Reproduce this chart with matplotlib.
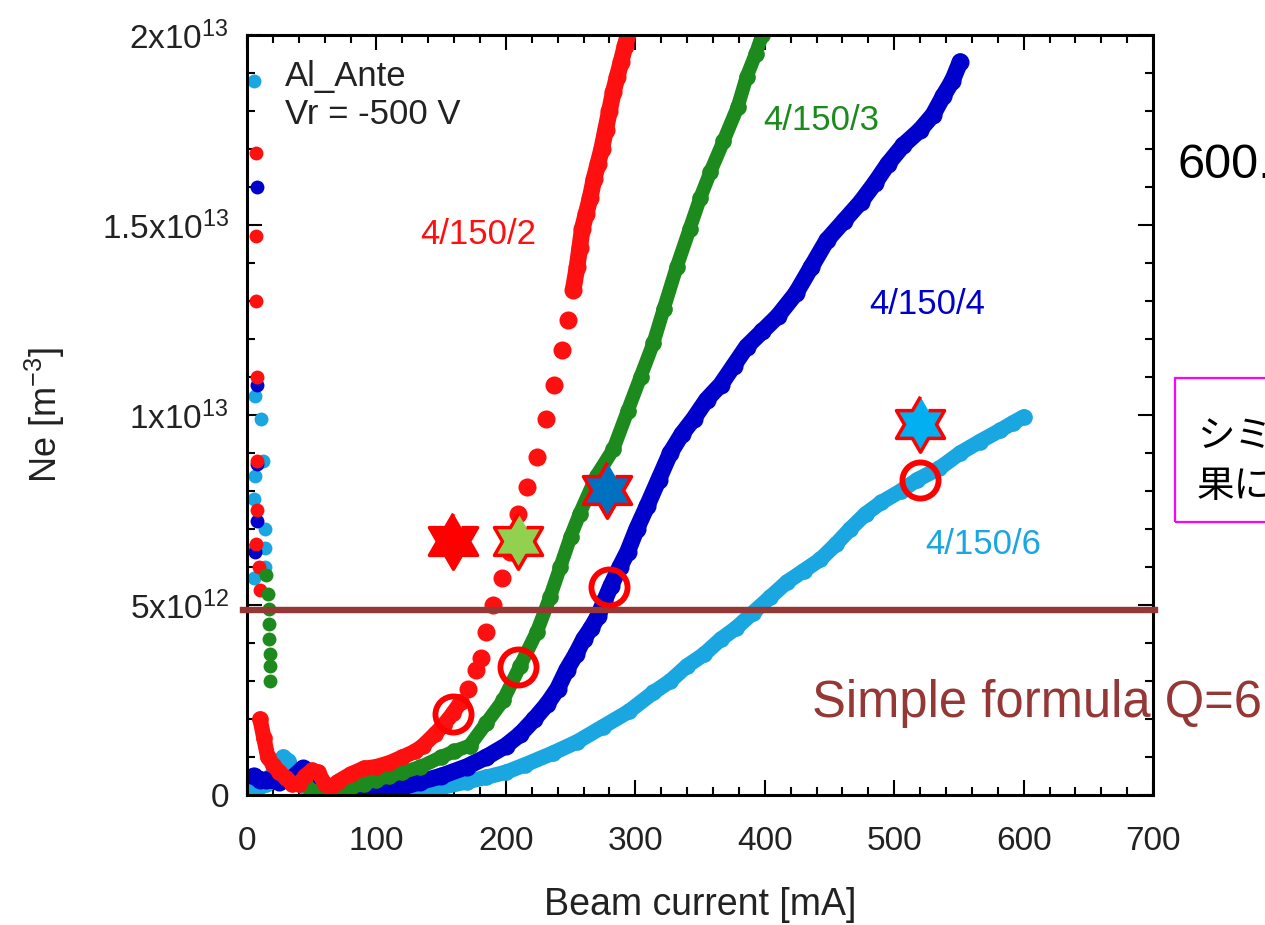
import matplotlib
matplotlib.use("Agg")
import matplotlib.pyplot as plt
from matplotlib.patches import Rectangle
from matplotlib.ticker import MultipleLocator
import numpy as np

plt.rcParams["font.family"] = ["Liberation Sans", "Noto Sans CJK JP", "DejaVu Sans"]
plt.rcParams["mathtext.fontset"] = "custom"
plt.rcParams["mathtext.rm"] = "Liberation Sans"
plt.rcParams["mathtext.it"] = "Liberation Sans"

# --- data (Ne in units of 1e12 m^-3, beam current in mA) ---
red_x = [10, 13, 16, 20, 25, 30, 35, 40, 45, 50, 55, 60, 65, 70, 80, 90,
         100, 110, 120, 130, 136, 145, 152, 159, 165]
red_y = [2.0, 1.5, 1.0, 0.8, 0.6, 0.45, 0.3, 0.3, 0.5, 0.65, 0.6, 0.3, 0.2,
         0.35, 0.55, 0.7, 0.75, 0.85, 1.0, 1.15, 1.3, 1.6, 1.85, 2.15, 2.45]
red_dot_x = [171, 177, 181, 185, 190, 197, 203, 209, 216, 224, 231, 237, 243,
             248]
red_dot_y = [2.8, 3.3, 3.6, 4.3, 5.0, 5.7, 6.4, 7.4, 8.1, 8.9, 9.9, 10.8, 11.7,
             12.5]
red_top_x = [252, 255, 257, 259, 262, 265, 268, 271, 274, 277, 280, 283, 286,
             289, 292, 296]
red_top_y = [13.3, 13.9, 14.4, 14.9, 15.3, 15.7, 16.2, 16.6, 17.0, 17.5, 18.0,
             18.5, 18.9, 19.3, 19.7, 20.2]
red_tr_x = [7, 7, 7, 8, 8, 8, 7, 9, 10]
red_tr_y = [16.9, 14.7, 13.0, 11.0, 8.8, 7.5, 6.6, 6.0, 5.4]

green_x = [45, 50, 55, 60, 70, 80, 90, 100, 110, 120, 134, 150, 160, 172, 185,
           198, 211, 224, 234, 242, 250, 257, 270, 283, 294, 304, 314, 322,
           332, 342, 350, 358, 368, 379, 386, 393, 398]
green_y = [0.3, 0.1, 0.0, 0.05, 0.15, 0.2, 0.3, 0.4, 0.5, 0.6, 0.74, 1.0, 1.15,
           1.3, 1.9, 2.5, 3.4, 4.3, 5.2, 6.0, 6.8, 7.4, 8.4, 9.1, 10.1, 11.0,
           11.9, 12.8, 13.9, 14.9, 15.7, 16.4, 17.2, 18.1, 18.9, 19.5, 20.0]
green_tr_x = [15, 16, 17, 17, 17, 18, 18, 18]
green_tr_y = [5.8, 5.3, 4.9, 4.5, 4.1, 3.7, 3.4, 3.0]

blue_x = [5, 10, 15, 25, 35, 43, 50, 60, 70, 80, 90, 103, 115, 134, 150, 170,
          185, 200, 211, 222, 232, 240, 247, 254, 260, 266, 271, 276, 281, 288,
          294, 301, 309, 318, 327, 336, 345, 355, 366, 376, 386, 398, 410, 424,
          436, 448, 461, 474, 485, 495, 507, 520, 530, 538, 545, 551]
blue_y = [0.5, 0.4, 0.4, 0.35, 0.45, 0.7, 0.5, 0.2, 0.1, 0.05, 0.05, 0.05, 0.15,
          0.35, 0.5, 0.75, 1.0, 1.3, 1.6, 2.0, 2.4, 2.8, 3.3, 3.7, 4.1, 4.4,
          4.7, 5.1, 5.5, 6.0, 6.4, 7.0, 7.6, 8.3, 9.0, 9.5, 9.9, 10.4, 10.8,
          11.3, 11.8, 12.2, 12.6, 13.2, 13.9, 14.6, 15.1, 15.6, 16.1, 16.6,
          17.1, 17.5, 17.9, 18.4, 18.8, 19.3]
blue_tr_x = [8, 8, 8, 8, 6]
blue_tr_y = [16.0, 10.8, 8.7, 7.2, 6.4]

cyan_x = [3, 8, 15, 22, 28, 32, 38, 45, 55, 65, 77, 90, 110, 134, 150, 170,
          185, 200, 215, 236, 255, 275, 295, 314, 327, 340, 353, 366, 378, 391,
          404, 417, 430, 443, 455, 466, 478, 490, 505, 518, 535, 551, 566, 582,
          592, 600]
cyan_y = [0.2, 0.15, 0.3, 0.7, 1.0, 0.9, 0.4, 0.2, 0.1, 0.05, 0.0, 0.0, 0.05,
          0.1, 0.2, 0.35, 0.47, 0.6, 0.8, 1.1, 1.4, 1.8, 2.2, 2.7, 3.0, 3.4,
          3.7, 4.1, 4.4, 4.8, 5.2, 5.6, 5.9, 6.2, 6.6, 7.0, 7.4, 7.7, 8.0, 8.3,
          8.6, 9.0, 9.3, 9.6, 9.8, 9.95]
cyan_tr_x = [5, 6, 11, 6, 12, 5, 14, 14, 14, 5, 5]
cyan_tr_y = [18.8, 10.5, 9.9, 8.4, 8.8, 7.8, 7.0, 6.5, 6.0, 6.5, 5.7]

# simulation stars and measured circles
star_x = [159, 209, 278, 520]
star_y = [6.68, 6.68, 8.03, 9.76]
star_colors = ["#FF0000", "#92D050", "#0070C0", "#00B0F0"]
circle_x = [159, 209, 280, 520]
circle_y = [2.13, 3.37, 5.47, 8.29]

simple_q6 = 4.87

x_ticks = [0, 100, 200, 300, 400, 500, 600, 700]
y_ticks = [0, 5, 10, 15, 20]
y_tick_labels = ["0", "5x10$^{12}$", "1x10$^{13}$", "1.5x10$^{13}$", "2x10$^{13}$"]

RED = "#FF1010"
GREEN = "#1C8A1C"
BLUE = "#0000CC"
CYAN = "#1AA6E0"
BROWN = "#953735"
TXT = "#222222"

# hexagram marker
ang = np.pi / 2 + np.arange(12) * np.pi / 6
rad = np.where(np.arange(12) % 2 == 0, 1.0, 0.577)
hexagram = list(zip(rad * np.cos(ang), rad * np.sin(ang)))

fig = plt.figure(figsize=(12.65, 9.25), dpi=100)
ax = fig.add_axes([0.1953, 0.1405, 0.7162, 0.8217])


def draw_band(xs, ys, color, lw, ms):
    ax.plot(xs, ys, color=color, lw=lw, solid_capstyle="round",
            solid_joinstyle="round")
    ax.plot(xs, ys, color=color, ls="none", marker="o", ms=ms, mew=0)


def draw_dots(xs, ys, color, ms=10):
    ax.plot(xs, ys, color=color, ls="none", marker="o", ms=ms, mew=0)


draw_band(cyan_x, cyan_y, CYAN, 11, 12)
draw_band(blue_x, blue_y, BLUE, 12, 13)
draw_band(green_x, green_y, GREEN, 10, 12)
draw_band(red_x, red_y, RED, 11, 12)
draw_dots(red_dot_x, red_dot_y, RED, 13)
draw_band(red_top_x, red_top_y, RED, 12, 13)

draw_dots(cyan_tr_x, cyan_tr_y, CYAN)
draw_dots(blue_tr_x, blue_tr_y, BLUE)
draw_dots(red_tr_x, red_tr_y, RED)
draw_dots(green_tr_x, green_tr_y, GREEN)

ax.axhline(simple_q6, xmin=-0.004, xmax=1.002, color=BROWN, lw=4.6,
           clip_on=False, zorder=5)

for sx, sy, sc in zip(star_x, star_y, star_colors):
    ax.plot(sx, sy, marker=hexagram, ms=40, mfc=sc, mec="#FF0000",
            mew=2.5, ls="none", zorder=7)
ax.plot(circle_x, circle_y, ls="none", marker="o", ms=26, mfc="none",
        mec="#FF0000", mew=4.2, zorder=7)

ax.set_xlim(0, 700)
ax.set_ylim(0, 20)
ax.set_xticks(x_ticks)
ax.set_yticks(y_ticks)
ax.set_yticklabels(y_tick_labels)
ax.xaxis.set_minor_locator(MultipleLocator(20))
ax.yaxis.set_minor_locator(MultipleLocator(1))
ax.tick_params(which="both", direction="in", top=True, right=True,
               labelsize=24, labelcolor=TXT, width=1.5)
ax.tick_params(which="major", length=11)
ax.tick_params(which="minor", length=6)
ax.tick_params(axis="x", which="major", pad=22)
ax.tick_params(axis="y", which="major", pad=13)
for s in ax.spines.values():
    s.set_linewidth(2.2)

ax.set_xlabel("Beam current [mA]", fontsize=27, color=TXT, va="center")
ax.set_ylabel("Ne [m$^{-3}$]", fontsize=26, color=TXT, va="center")
ax.xaxis.set_label_coords(0.5, -0.1447)
ax.yaxis.set_label_coords(-0.223, 0.5)

ax.text(29, 18.9, "Al_Ante", fontsize=25, va="center", color=TXT)
ax.text(29, 17.9, "Vr = -500 V", fontsize=25, va="center", color=TXT)
ax.text(134, 14.74, "4/150/2", fontsize=25, va="center", color=RED)
ax.text(399, 17.76, "4/150/3", fontsize=25, va="center", color=GREEN)
ax.text(481, 12.9, "4/150/4", fontsize=25, va="center", color=BLUE)
ax.text(524, 6.58, "4/150/6", fontsize=25, va="center", color=CYAN)

# slide text around the chart (cut by the picture edge)
fig.text(812 / 1265, 1 - 703 / 925, "Simple formula Q=6", fontsize=36.5,
         color=BROWN, va="center", ha="left")
fig.text(1177 / 1265, 1 - 165 / 925, "600.", fontsize=35, color="black",
         va="center", ha="left")
fig.patches.append(Rectangle((1175 / 1265, 1 - 522 / 925), 0.2, 144 / 925,
                             transform=fig.transFigure, fill=False,
                             edgecolor="#FF00FF", lw=1.6))
fig.text(1197 / 1265, 1 - 437 / 925, "シミュレーション結", fontsize=27,
         color="black", va="center", ha="left")
fig.text(1197 / 1265, 1 - 487 / 925, "果による値", fontsize=27,
         color="black", va="center", ha="left")

fig.savefig("out.png", dpi=100)
